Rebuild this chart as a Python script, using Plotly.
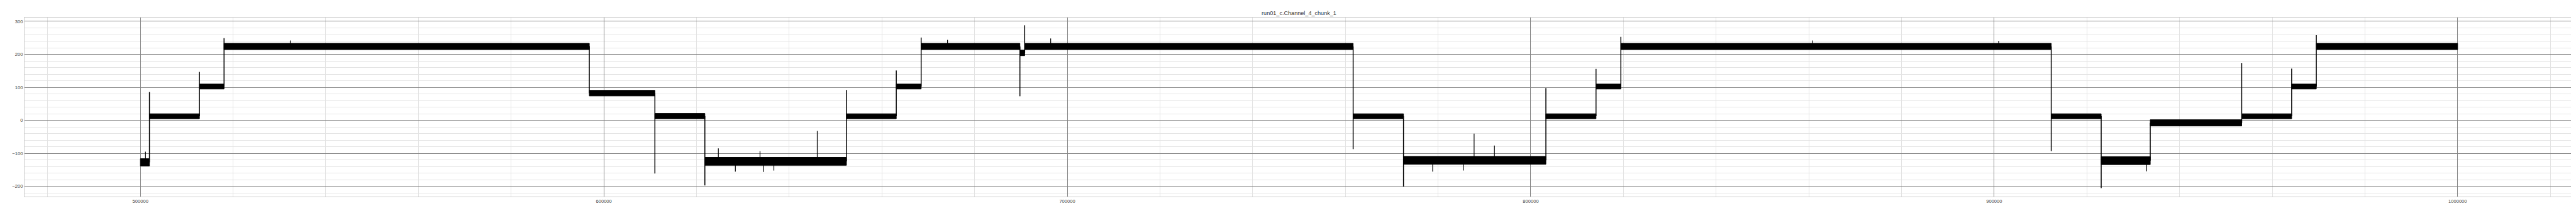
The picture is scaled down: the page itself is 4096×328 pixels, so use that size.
import plotly.graph_objects as go

# ---- data ----
title_text = "run01_c.Channel_4_chunk_1"

# plateau segments of the signal (sample index range and noise band low/high)
seg_start = [500000, 501950, 512740, 518050, 596867, 611016, 621800, 652352, 663100, 668470,
             689780, 690810, 761683, 772544, 803268, 814088, 819450, 912310, 923090, 933680,
             953410, 964190, 969510]
seg_end = [501950, 512740, 518050, 596867, 611016, 621800, 652352, 663100, 668470, 689780,
           690810, 761683, 772544, 803268, 814088, 819450, 912310, 923090, 933680, 953410,
           964190, 969510, 1000000]
seg_lo = [-138, 5, 95, 214.5, 74, 5, -136, 5, 95, 214.5,
          196, 214.5, 5, -133, 5, 95, 214.5, 5, -134, -17,
          5, 95, 214.5]
seg_hi = [-116, 20, 110, 233.5, 91, 21, -112, 20, 110, 233.5,
          213, 233.5, 20, -109, 20, 110, 233.5, 20, -110, 2,
          20, 110, 233.5]

# overshoot / undershoot peak at each step between consecutive segments
trans_peak = [86, 147, 249, 225, -161, -197, 92, 151, 251, 73,
              288, -87, -201, 98, 156, 253, -93, -205, -8, 174,
              157, 258]

# isolated spikes inside plateaus
spike_x = [501100, 532340, 624710, 628380, 633700, 634480, 636690, 646050, 674160, 696420,
           778840, 785450, 787780, 792170, 860840, 900970, 932900]
spike_y = [-95, 242, -85, -155, -93, -156, -152, -32, 244, 248,
           -155, -152, -40, -76, 242, 241, -154]

# ---- build marks ----
band_x, band_y = [], []
for s, e, lo, hi in zip(seg_start, seg_end, seg_lo, seg_hi):
    band_x += [s, e, e, s, s, None]
    band_y += [lo, lo, hi, hi, lo, None]

step_x, step_y = [], []
for i, pk in enumerate(trans_peak):
    xb = seg_end[i]
    prev_c = (seg_lo[i] + seg_hi[i]) / 2
    next_c = (seg_lo[i + 1] + seg_hi[i + 1]) / 2
    lo_v = min(prev_c, next_c, pk)
    hi_v = max(prev_c, next_c, pk)
    step_x += [xb, xb, None]
    step_y += [lo_v, hi_v, None]

centers = []
for sx in spike_x:
    for s, e, lo, hi in zip(seg_start, seg_end, seg_lo, seg_hi):
        if s <= sx <= e:
            centers.append((lo + hi) / 2)
            break
sp_x, sp_y = [], []
for sx, sy, c in zip(spike_x, spike_y, centers):
    sp_x += [sx, sx, None]
    sp_y += [c, sy, None]

fig = go.Figure()
fig.add_trace(go.Scatter(x=band_x, y=band_y, mode="lines", fill="toself",
                         fillcolor="black", line=dict(color="black", width=1),
                         hoverinfo="skip", showlegend=False))
fig.add_trace(go.Scatter(x=step_x, y=step_y, mode="lines",
                         line=dict(color="black", width=1.5),
                         hoverinfo="skip", showlegend=False))
fig.add_trace(go.Scatter(x=sp_x, y=sp_y, mode="lines",
                         line=dict(color="black", width=1.2),
                         hoverinfo="skip", showlegend=False))

font_family = "Liberation Sans, Arial, sans-serif"
axis_common = dict(
    showgrid=True, gridcolor="#858585", gridwidth=1,
    ticks="", showline=True, linecolor="#cccccc", linewidth=1, mirror=True,
    zeroline=False, tickfont=dict(size=7.6, color="#444444", family=font_family),
)

fig.update_layout(
    width=4096, height=328,
    margin=dict(l=28, r=11, t=20, b=19),
    paper_bgcolor="white", plot_bgcolor="white",
    title=dict(text=title_text, x=0.5, xref="paper", xanchor="center",
               y=1 - 13.2 / 328, yref="container", yanchor="middle",
               font=dict(size=9.1, color="#333333", family=font_family)),
    xaxis=dict(range=[475000, 1025000], tickmode="linear", tick0=0, dtick=100000,
               tickformat="d",
               minor=dict(tick0=0, dtick=20000, showgrid=True, gridcolor="#e3e3e3", gridwidth=1),
               **axis_common),
    yaxis=dict(range=[-230.8, 311.4], tickmode="linear", tick0=0, dtick=100,
               minor=dict(tick0=0, dtick=20, showgrid=True, gridcolor="#e3e3e3", gridwidth=1),
               **axis_common),
    showlegend=False,
)

fig.write_html("out.html", config={"displayModeBar": False})
